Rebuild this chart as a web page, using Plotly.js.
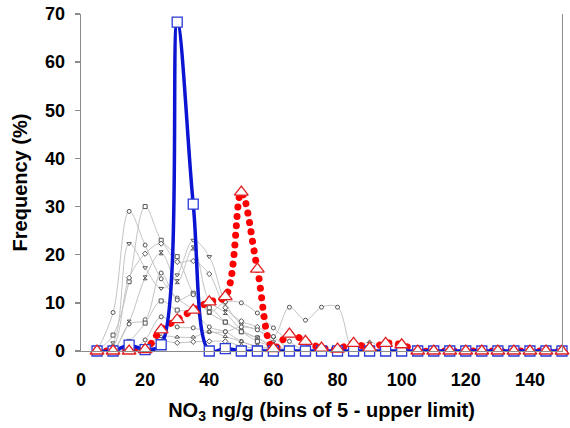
<!DOCTYPE html>
<html>
<head>
<meta charset="utf-8">
<script src="https://cdn.plot.ly/plotly-3.0.1.min.js"></script>
<style>html,body{margin:0;padding:0;background:#fff;}#chart{width:570px;height:428px;}</style>
</head>
<body>
<div id="chart"></div>
<script>
// Bin upper limits (ng/g)
var bins = [5,10,15,20,25,30,35,40,45,50,55,60,65,70,75,80,85,90,95,100,105,110,115,120,125,130,135,140,145,150];

// Highlighted series
var blueSeries = [0,0,1.2,0.3,1.3,68.3,30.5,0,0.5,0,0,0,0,0,0,0,0,0,0,0,0,0,0,0,0,0,0,0,0,0];
var redSeries  = [0,0,0,0.3,4.4,6.5,8.5,10.2,11.3,33,17,0.5,3.5,2,0.6,0.4,1.6,0.6,1.6,1.3,0,0,0,0,0,0,0,0,0,0];

// Background (grey) series
var grey1  = [0,8,29,22,15,11,8.5,5,4,2,1,0.5,0,0,0,0,0,0,0,0,0,0,0,0,0,0,0,0,0,0];
var grey2  = [0,3.3,14.4,30,23,19.6,12,8,6,4,2.7,1,0,0,0,0,0,0,0,0,0,0,0,0,0,0,0,0,0,0];
var grey3  = [0,1.7,22.3,17.3,13,15.8,23,19.6,10,5.6,4.4,1.9,0,0,0,0,0,0,0,0,0,0,0,0,0,0,0,0,0,0];
var grey4  = [0,1,15.2,20.2,22.3,18.5,18.7,16,9,6.2,5,2.9,0.5,0,0,0,0,0,0,0,0,0,0,0,0,0,0,0,0,0];
var grey5  = [0,0.5,6,15.2,20.4,14.4,21.4,10.4,8,4.4,2.7,1,0,0,0,0,0,0,0,0,0,0,0,0,0,0,0,0,0,0];
var grey6  = [0,0,5.6,6.5,16.2,10.6,11.7,8.1,10.2,10,7.9,4.8,2,0,0,0,0,0,0,0,0,0,0,0,0,0,0,0,0,0];
var grey7  = [0,0,2,5.8,10.4,8.5,8.5,9,6,4,2,1,0,0,0,0,0,0,0,0,0,0,0,0,0,0,0,0,0,0];
var grey8  = [0,0,0,2.3,7.1,5,4.8,4,4,5,4.4,3,9.1,6.4,9.1,9.1,0,0,0,0,0,0,0,0,0,0,0,0,0,0];
var grey9  = [0,0,0,1,3,2.9,2.9,4,3,2,0.8,0.5,0,0,0,0,0,1.9,0,0,0,0,0,0,0,0,0,0,0,0];
var grey10 = [0,0,0,0.5,2,1.7,1.9,2,2,1,0.5,0,0,0,0,0,0,0,0,0,0,0,0,0,0,0,0,0,0,0];

var greySeries = [grey1,grey2,grey3,grey4,grey5,grey6,grey7,grey8,grey9,grey10];
var greySymbols = ['circle','square','triangle-down','diamond','hourglass','circle','square','circle','triangle-up','diamond'];

// Top-axis minor tick positions
var topTicks = [5,10,15,25,30,35,45,50,55,65,70,75,85,90,95,105,110,115,125,130,135,145];
var xTicks = [0,20,40,60,80,100,120,140];
var yTicks = [0,10,20,30,40,50,60,70];

var traces = [];
greySeries.forEach(function(s, i){
  traces.push({
    x: bins, y: s, type: 'scatter', mode: 'lines+markers',
    line: {color: '#c4c4c4', width: 1, shape: 'spline', smoothing: 1},
    marker: {symbol: greySymbols[i], size: 4, color: '#ffffff', line: {color: '#555555', width: 1}},
    cliponaxis: false, hoverinfo: 'skip'
  });
});
// red dotted line
traces.push({
  x: bins, y: redSeries, type: 'scatter', mode: 'lines',
  line: {color: '#ff0000', width: 7, shape: 'spline', smoothing: 1},
  cliponaxis: false, hoverinfo: 'skip'
});
// blue line with squares
traces.push({
  x: bins, y: blueSeries, type: 'scatter', mode: 'lines+markers',
  line: {color: '#0a14d2', width: 3.5, shape: 'spline', smoothing: 1},
  marker: {symbol: 'square', size: 10, color: '#ffffff', line: {color: '#2a3ad6', width: 1.3}},
  cliponaxis: false, hoverinfo: 'skip'
});
// red triangles
traces.push({
  x: bins, y: redSeries, type: 'scatter', mode: 'markers',
  marker: {symbol: 'triangle-up', size: 12, color: '#ffffff', line: {color: '#e02020', width: 1.3}},
  cliponaxis: false, hoverinfo: 'skip'
});

var fontFam = '"Liberation Sans", Arial, sans-serif';
var layout = {
  width: 570, height: 428,
  margin: {l: 81, r: 8, t: 14, b: 77},
  paper_bgcolor: '#ffffff', plot_bgcolor: '#ffffff',
  showlegend: false,
  font: {family: fontFam, color: '#000000'},
  xaxis: {
    range: [0, 150], tickvals: xTicks, ticktext: xTicks.map(String),
    showgrid: false, zeroline: false, showline: true, linecolor: '#8c8c8c', linewidth: 1.3,
    ticks: '', ticklabelstandoff: 12,
    tickfont: {family: fontFam, size: 18, weight: 700, color: '#000'},
    title: {text: 'NO<sub>3</sub> ng/g (bins of 5 - upper limit)', font: {family: fontFam, size: 20, weight: 700, color: '#000'}, standoff: 14}
  },
  xaxis2: {
    range: [0, 150], overlaying: 'x', side: 'top', anchor: 'y',
    tickvals: topTicks, showticklabels: false, ticks: 'inside', ticklen: 4, tickcolor: '#8c8c8c', tickwidth: 1,
    showgrid: false, zeroline: false, showline: true, linecolor: '#8c8c8c', linewidth: 1.3
  },
  yaxis: {
    range: [0, 70], tickvals: yTicks, ticktext: yTicks.map(String),
    showgrid: false, zeroline: false, showline: true, mirror: true, linecolor: '#8c8c8c', linewidth: 1.3,
    ticks: 'outside', ticklen: 5, tickcolor: '#8c8c8c', tickwidth: 1.3, ticklabelstandoff: 6,
    tickfont: {family: fontFam, size: 18, weight: 700, color: '#000'},
    title: {text: 'Frequency (%)', font: {family: fontFam, size: 20, weight: 700, color: '#000'}, standoff: 12}
  }
};

Plotly.newPlot('chart', traces, layout, {staticPlot: true, displayModeBar: false}).then(function(){
  // let lines at y=0 show fully (no clipping)
  document.querySelectorAll('g.plot').forEach(function(g){ g.removeAttribute('clip-path'); });
  // round dotted style for the red line
  var tr = document.querySelectorAll('.scatterlayer .trace');
  var redTrace = tr[10];
  if (redTrace) {
    redTrace.querySelectorAll('path.js-line').forEach(function(p){
      p.style.strokeDasharray = '0.01px,9.5px';
      p.style.strokeLinecap = 'round';
    });
  }
});
</script>
</body>
</html>
